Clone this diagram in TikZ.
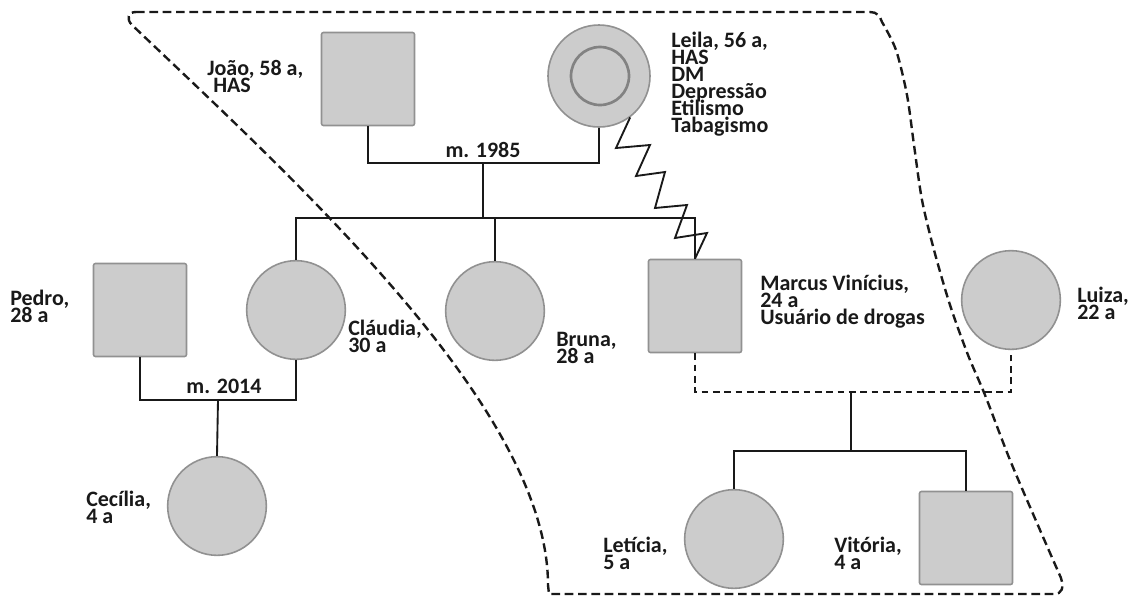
\documentclass[tikz,border=0pt]{standalone}
\usepackage{fontspec}
\setmainfont{Carlito}
\definecolor{pgfillc}{RGB}{204,204,204}
\definecolor{pgedgec}{RGB}{145,145,145}
\definecolor{pglinec}{RGB}{25,25,25}
\begin{document}
\begin{tikzpicture}[x=0.75pt,y=-0.75pt,
  sq/.style={rectangle, rounded corners=1.5pt, draw=pgedgec, fill=pgfillc, line width=1.2pt, minimum size=69.75pt, inner sep=0pt},
  ci/.style={circle, draw=pgedgec, fill=pgfillc, line width=1.2pt, minimum size=74pt, inner sep=0pt},
  lbl/.style={anchor=base west, inner sep=0pt, font=\fontsize{16.5}{13}\selectfont\bfseries, text=pglinec},
  ln/.style={line width=1.4pt, draw=pglinec},
  dln/.style={line width=1.3pt, draw=pglinec, dash pattern=on 5pt off 3.5pt},
  bnd/.style={line width=1.8pt, draw=pglinec, dash pattern=on 6.5pt off 3.5pt}]
\useasboundingbox (0,0) rectangle (1133,597);

% boundary
\draw[bnd] (136,12) -- (870,12) .. controls (877,12) and (880,16) .. (882,22)
  -- plot[smooth] coordinates {(882,22) (896,50) (907,95) (914,145) (922,200) (934,250) (950,305) (968,355) (985,395) (1010,460) (1040,530) (1061,578)}
  .. controls (1064,588) and (1062,594) .. (1054,594) -- (549,594) -- (548,585)
  .. controls (548,410) and (300,185) .. (132,25) .. controls (126,19) and (128,12) .. (136,12);

% people
\node[sq] (joao) at (368,79) {};
\node[circle, draw=pgedgec, fill=pgfillc, line width=1.2pt, minimum size=76.5pt, inner sep=0pt] (leila) at (599,76) {};
\node[circle, draw={rgb,255:red,130;green,130;blue,130}, fill=pgfillc, line width=2pt, minimum size=43.5pt, inner sep=0pt] (leilain) at (600,76) {};
\node[sq] (pedro) at (140,310) {};
\node[ci] (claudia) at (296,310) {};
\node[ci] (bruna) at (495,311) {};
\node[sq] (marcus) at (695,306) {};
\node[ci] (luiza) at (1011,300) {};
\node[ci] (cecilia) at (217,506) {};
\node[ci] (leticia) at (734,539) {};
\node[sq] (vitoria) at (966,538) {};

% junction points
\coordinate (m1) at (483,163);
\coordinate (s1) at (483,218);
\coordinate (m2) at (218,400);
\coordinate (m3) at (851,392);
\coordinate (s3) at (851,451);

% connectors
\draw[ln] (joao.south) |- (m1) -| (leila.south);
\draw[ln] (m1) -- (s1);
\draw[ln] (claudia.north) |- (s1) -| (marcus.north);
\draw[ln] (bruna.north) -- (bruna.north |- s1);
\draw[ln] (pedro.south) |- (m2) -| (claudia.south);
\draw[ln] (m2) -- (cecilia.north);
\draw[dln] (marcus.south) |- (m3) -| (luiza.south);
\draw[ln] (m3) -- (s3);
\draw[ln] (leticia.north) |- (s3) -| (vitoria.north);
\draw[ln, line join=miter] (leila.-53) -- (616,148) -- (650,145) -- (636,176) -- (665,172) -- (655,208) -- (687,205) -- (675,238) -- (707,233) -- (marcus.north);

% labels
\node[lbl] (jl1) at (207,75) {João, 58 a,};
\node[lbl] (jl2) at (213,92) {HAS};
\node[lbl] (ll1) at (671,47) {Leila, 56 a,};
\node[lbl] (ll2) at (671,64) {HAS};
\node[lbl] (ll3) at (671,81) {DM};
\node[lbl] (ll4) at (671,98) {Depressão};
\node[lbl] (ll5) at (671,115) {Etilismo};
\node[lbl] (ll6) at (671,132) {Tabagismo};
\node[lbl, anchor=base] (mt1) at (483,157) {m. 1985};
\node[lbl, anchor=base] (mt2) at (224,393) {m. 2014};
\node[lbl] (pl1) at (10,305) {Pedro,};
\node[lbl] (pl2) at (10,322) {28 a};
\node[lbl] (cl1) at (348,335) {Cláudia,};
\node[lbl] (cl2) at (348,352) {30 a};
\node[lbl] (bl1) at (556,346) {Bruna,};
\node[lbl] (bl2) at (556,363) {28 a};
\node[lbl] (ml1) at (760,290) {Marcus Vinícius,};
\node[lbl] (ml2) at (760,307) {24 a};
\node[lbl] (ml3) at (760,324) {Usuário de drogas};
\node[lbl] (lu1) at (1077,302) {Luiza,};
\node[lbl] (lu2) at (1077,319) {22 a};
\node[lbl] (ce1) at (86,506) {Cecília,};
\node[lbl] (ce2) at (86,523) {4 a};
\node[lbl] (le1) at (603,552) {Letícia,};
\node[lbl] (le2) at (603,569) {5 a};
\node[lbl] (vi1) at (834,552) {Vitória,};
\node[lbl] (vi2) at (834,569) {4 a};
\end{tikzpicture}
\end{document}
